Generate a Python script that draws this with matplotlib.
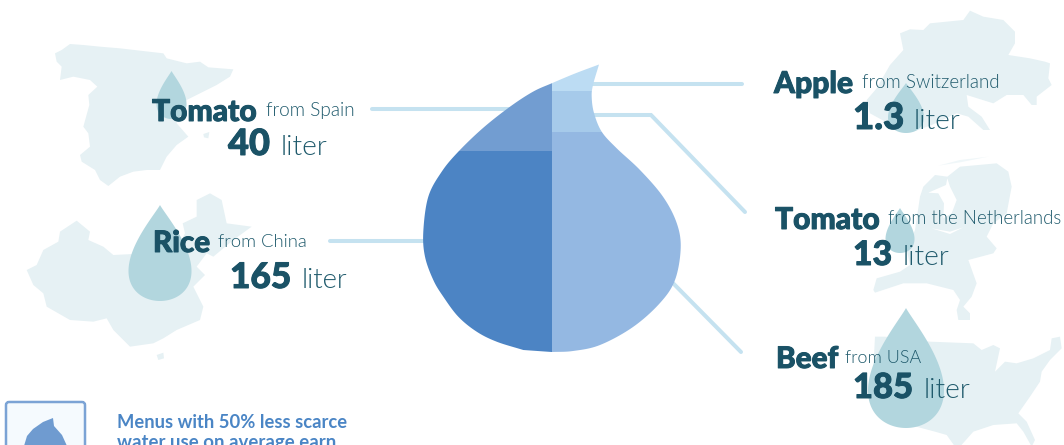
import numpy as np
import matplotlib
matplotlib.use("Agg")
import matplotlib.pyplot as plt
import matplotlib.patheffects as pe
from matplotlib.patches import Polygon, Rectangle, FancyBboxPatch

# Water footprint per food item
foods = ["Tomato", "Rice", "Apple", "Tomato", "Beef"]
origins = ["from Spain", "from China", "from Switzerland", "from the Netherlands", "from USA"]
liters = ["40", "165", "1.3", "13", "185"]

DARK = "#1a5266"
SOFT = "#1f5a6c"
LAND = "#e6f1f4"
DROP = "#b2d6de"
LEADER = "#c5e2f0"

fig = plt.figure(figsize=(10.64, 4.45), dpi=100, facecolor="white")
ax = fig.add_axes([0, 0, 1, 1])
ax.set_xlim(0, 1064)
ax.set_ylim(445, 0)
ax.axis("off")


def smooth(points, closed=True, n=12):
    """Catmull-Rom spline through the given points."""
    p = np.asarray(points, float)
    if closed:
        p = np.vstack([p[-1], p, p[0], p[1]])
    else:
        p = np.vstack([2 * p[0] - p[1], p, 2 * p[-1] - p[-2]])
    t = np.linspace(0, 1, n, endpoint=False)[:, None]
    out = []
    for a, b, c, d in zip(p[:-3], p[1:-2], p[2:-1], p[3:]):
        out.append(0.5 * (2 * b + (c - a) * t + (2 * a - 5 * b + 4 * c - d) * t**2
                          + (3 * b - a - 3 * c + d) * t**3))
    out.append(p[-2][None, :])
    return np.vstack(out)


def land(points, ox, oy, color=LAND, zorder=1):
    xy = np.asarray(points, float) / 3 + [ox, oy]
    ax.add_patch(Polygon(xy, closed=True, fc=color, ec="none", zorder=zorder))


def teardrop(x, top, width, height, color=DROP, zorder=2):
    t = np.linspace(0, 2 * np.pi, 200)
    shape = np.sin(t) * np.abs(np.sin(t / 2)) ** 1.2
    shape = shape / shape.max()
    ax.add_patch(Polygon(np.c_[x + shape * width / 2, top + height * (1 - np.cos(t)) / 2],
                         closed=True, fc=color, ec="none", zorder=zorder))


# Country silhouettes, traced at three times their drawn size
spain = [(165, 70), (185, 60), (210, 42), (250, 45), (300, 50), (360, 55), (420, 62), (490, 70),
         (500, 85), (560, 100), (600, 95), (625, 112), (700, 118), (690, 140), (650, 165),
         (600, 190), (560, 210), (535, 240), (530, 280), (565, 320), (530, 345), (500, 380),
         (480, 420), (440, 420), (400, 425), (360, 440), (325, 468), (300, 450), (285, 420),
         (245, 395), (240, 375), (270, 350), (265, 310), (250, 290), (268, 225), (265, 195),
         (292, 170), (270, 150), (220, 140), (180, 150), (185, 110), (170, 95)]
balearic = [(610, 312), (628, 306), (625, 325), (612, 322)]
china = [(80, 720), (110, 705), (130, 660), (175, 635), (180, 605), (230, 572), (270, 605),
         (265, 630), (310, 650), (340, 675), (400, 672), (470, 660), (540, 640), (555, 610),
         (548, 580), (590, 560), (590, 510), (630, 490), (665, 510), (680, 580), (755, 590),
         (700, 630), (640, 680), (620, 670), (590, 710), (615, 735), (580, 770), (610, 830),
         (600, 870), (530, 900), (490, 925), (460, 940), (390, 950), (365, 925), (340, 900),
         (320, 865), (280, 875), (210, 870), (140, 830), (130, 790), (100, 765)]
hainan = [(470, 975), (490, 968), (492, 985), (475, 990)]
swiss = [(20, 300), (50, 265), (90, 195), (130, 150), (120, 100), (150, 88), (190, 90), (210, 70),
         (310, 60), (330, 32), (370, 50), (430, 60), (465, 95), (465, 130), (445, 165), (510, 175),
         (555, 185), (570, 190), (565, 235), (575, 255), (530, 290), (530, 315), (515, 315),
         (490, 285), (440, 285), (400, 310), (320, 285), (325, 320), (365, 350), (390, 390),
         (370, 390), (325, 350), (290, 340), (215, 375), (160, 395), (120, 395), (85, 370), (30, 340)]
dutch = [(40, 420), (50, 385), (120, 365), (150, 345), (140, 300), (165, 240), (180, 140), (190, 110),
         (225, 75), (262, 80), (300, 50), (410, 40), (445, 65), (455, 110), (440, 190), (400, 220),
         (380, 260), (410, 295), (400, 310), (325, 330), (350, 400), (335, 440), (310, 470),
         (330, 490), (330, 510), (295, 510), (290, 480), (300, 450), (280, 420), (200, 400),
         (130, 400), (45, 428)]
ijsselmeer = [(205, 128), (258, 105), (262, 85), (270, 110), (290, 150), (275, 190), (250, 205),
              (252, 160), (235, 130)]
river = [(215, 235), (270, 245), (310, 232), (270, 252)]
wadden = [(235, 47), (300, 30), (385, 20), (300, 37)]
usa = [(45, 35), (75, 35), (210, 50), (340, 55), (365, 75), (400, 60), (420, 70), (405, 140),
       (435, 110), (470, 115), (520, 100), (570, 75), (575, 40), (600, 35), (605, 70), (570, 105),
       (545, 140), (540, 170), (510, 215), (475, 265), (500, 290), (525, 345), (515, 365),
       (490, 320), (470, 295), (400, 300), (340, 320), (300, 365), (285, 365), (260, 330),
       (225, 320), (150, 300), (60, 260), (40, 130)]
for shape in (spain, balearic, china, hainan):
    land(shape, 0, 30)
land(swiss, 860, 0)
land(dutch, 860, 150)
land(wadden, 860, 150, color="#f0f7f9")
land(ijsselmeer, 860, 150, color="#ffffff", zorder=1.5)
land(river, 860, 150, color="#ffffff", zorder=1.5)
land(usa, 860, 325)

# Small drops behind each label
teardrop(171.5, 71, 30, 48)
teardrop(160, 205, 63, 96)
teardrop(906, 83, 36, 50)
teardrop(900, 208, 29, 45)
teardrop(906, 308, 76, 120)

# Leader lines
leaders = [[(372, 109), (520, 109)], [(330, 241), (430, 241)], [(742, 84), (585, 84)],
           [(745, 212), (651, 115), (585, 115)], [(741, 352), (665, 275)]]
for seg in leaders:
    xs, ys = zip(*seg)
    ax.plot(xs, ys, color=LEADER, lw=2.9, solid_capstyle="round", solid_joinstyle="miter", zorder=3)

# Central drop, split into the five products
right_side = [(599, 64.5), (593, 85), (591.7, 97), (594, 113), (601.7, 131.7), (616.7, 148.3),
              (640, 170), (663, 196.7), (676.7, 223), (680.7, 248), (675, 280), (660, 303),
              (633, 327), (600, 345), (573, 351), (551.7, 352)]
left_side = [(523.3, 350), (496.7, 341.7), (476.7, 331.7), (458.3, 316.7), (443.3, 296.7),
             (433.3, 280), (425, 256.7), (423.3, 231.7), (428.3, 196.7), (441.7, 171.7),
             (458.3, 151.7), (483, 128), (510, 106.7), (533, 91.7), (551.7, 83.3), (575, 73.5),
             (599, 64.5)]
outline = np.vstack([smooth(right_side, closed=False), smooth(left_side, closed=False)])
bands = [(552, 60, 140, 31, "#bcdcf3"), (552, 91, 140, 41, "#a6caea"), (552, 132, 140, 225, "#94b8e2"),
         (410, 60, 142, 91, "#729dd1"), (410, 151, 142, 206, "#4c84c4")]
for bx, by, bw, bh, color in bands:
    patch = Rectangle((bx, by), bw, bh, fc=color, ec="none", zorder=4)
    ax.add_patch(patch)
    patch.set_clip_path(Polygon(outline, closed=True, transform=ax.transData))

renderer = fig.canvas.get_renderer()


def fitted(x0, x1, baseline, s, color, family, weight, stroke=0.0, zorder=6):
    """Place text on a baseline, sized so it spans x0..x1 in pixels."""
    txt = ax.text(x0, baseline, s, color=color, family=family, weight=weight, fontsize=20,
                  ha="left", va="baseline", zorder=zorder, clip_on=False)
    span = txt.get_window_extent(renderer).width
    txt.set_fontsize(20 * (x1 - x0) / span)
    if stroke:
        txt.set_path_effects([pe.withStroke(linewidth=stroke, foreground=color)])
    return txt


name_spans = [(152, 257, 121), (153, 210, 252), (774, 853, 93), (775, 880, 229), (776, 838, 368)]
origin_spans = [(266, 355, 116), (218, 307, 247), (862, 1000, 88), (888, 1062, 224), (845, 921, 363)]
value_spans = [(228, 270, 155), (230, 291, 288), (853, 904, 129), (853, 892, 265), (853, 913, 398)]
unit_spans = [(281, 328, 155), (302, 348, 288), (914, 961, 129), (903, 950, 265), (924, 971, 398)]

for i in range(len(foods)):
    fitted(*name_spans[i], foods[i], DARK, "Lato", 900, stroke=0.7)
    fitted(*origin_spans[i], origins[i], SOFT, "Lato", 300)
    fitted(*value_spans[i], liters[i], DARK, "Lato", 900, stroke=0.7)
    fitted(*unit_spans[i], "liter", SOFT, "Lato", 300)

# Takeaway box, running off the bottom edge
ax.add_patch(FancyBboxPatch((6, 402), 79, 70, boxstyle="round,pad=0,rounding_size=3",
                            fc="#f5fafe", ec="#7ba3d5", lw=1.8, zorder=2))
icon = np.array([(53, 418), (54, 426), (62, 435), (67, 446), (24, 446), (27, 436), (33, 429), (43, 422)])
ax.add_patch(Polygon(icon, closed=True, fc="#6f9bd0", ec="none", zorder=3))
fitted(117, 346, 428, "Menus with 50% less scarce", "#4a85c5", "Lato", 700)
fitted(117, 336, 448, "water use on average earn", "#4a85c5", "Lato", 700)

fig.savefig("out.png", dpi=100, facecolor="white")
